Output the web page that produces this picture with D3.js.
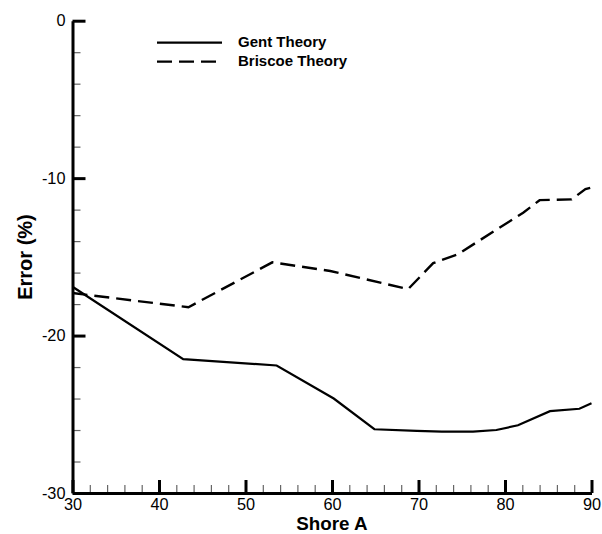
<!DOCTYPE html>
<html>
<head>
<meta charset="utf-8">
<script src="https://cdn.jsdelivr.net/npm/d3@7"></script>
<style>
  body { margin: 0; background: #fff; }
  svg { font-family: "Liberation Sans", Arial, sans-serif; }
</style>
</head>
<body>
<svg width="602" height="534"></svg>
<script>
// Data
let gentX = [30, 42.8, 53.6, 60.2, 64.9, 69.8, 72.7, 76.3, 79.0, 81.5, 85.2, 88.6, 90];
let gentY = [-16.9, -21.5, -21.9, -24.0, -25.95, -26.05, -26.1, -26.1, -26.0, -25.7, -24.8, -24.65, -24.3];
let briscoeX = [30, 43.4, 53.1, 59.8, 68.8, 71.7, 74.5, 82.1, 84.0, 87.7, 89.3, 90];
let briscoeY = [-17.3, -18.2, -15.35, -15.9, -17.05, -15.4, -14.85, -12.2, -11.4, -11.35, -10.7, -10.6];
let xTicks = [30, 40, 50, 60, 70, 80, 90];
let yTicks = [-30, -20, -10, 0];
let seriesNames = ["Gent Theory", "Briscoe Theory"];

let svg = d3.select("svg");

let x = d3.scaleLinear().domain([30, 90]).range([72.5, 591.5]);
let y = d3.scaleLinear().domain([-30, 0]).range([493, 20.7]);

let minorX = d3.range(30, 90.01, 2).filter(v => v % 10 !== 0);
let minorY = d3.range(-30, 0.01, 2).filter(v => v % 10 !== 0);

// minor ticks
svg.append("g")
  .attr("transform", "translate(0," + y(-30) + ")")
  .call(d3.axisBottom(x).tickValues(minorX).tickSizeInner(-8).tickSizeOuter(0).tickFormat(""))
  .call(g => g.select(".domain").remove())
  .selectAll("line").attr("stroke", "#666").attr("stroke-width", 1.2);

svg.append("g")
  .attr("transform", "translate(" + x(30) + ",0)")
  .call(d3.axisLeft(y).tickValues(minorY).tickSizeInner(-8).tickSizeOuter(0).tickFormat(""))
  .call(g => g.select(".domain").remove())
  .selectAll("line").attr("stroke", "#666").attr("stroke-width", 1.2);

// major axes (plain hyphen for negatives, as in the reference)
let xAxis = svg.append("g")
  .attr("transform", "translate(0," + y(-30) + ")")
  .call(d3.axisBottom(x).tickValues(xTicks).tickSizeInner(-13).tickSizeOuter(0)
    .tickPadding(5.5).tickFormat(d => String(d)));

let yAxis = svg.append("g")
  .attr("transform", "translate(" + x(30) + ",0)")
  .call(d3.axisLeft(y).tickValues(yTicks).tickSizeInner(-13).tickSizeOuter(0)
    .tickPadding(7).tickFormat(d => String(d)));

[xAxis, yAxis].forEach(function(g) {
  g.select(".domain").attr("stroke", "#000").attr("stroke-width", 3);
  g.selectAll(".tick line").attr("stroke", "#000").attr("stroke-width", 3);
  g.selectAll(".tick text").attr("fill", "#000").attr("font-size", "16.3px")
    .attr("font-family", "'Liberation Sans', Arial, sans-serif");
});

// Lines
let line = d3.line().x(d => x(d[0])).y(d => y(d[1]));

svg.append("path")
  .datum(d3.zip(gentX, gentY))
  .attr("d", line)
  .attr("fill", "none")
  .attr("stroke", "#000")
  .attr("stroke-width", 2.2);

svg.append("path")
  .datum(d3.zip(briscoeX, briscoeY))
  .attr("d", line)
  .attr("fill", "none")
  .attr("stroke", "#000")
  .attr("stroke-width", 2.4)
  .attr("stroke-dasharray", "15,7");

// Legend
let legend = svg.append("g");
seriesNames.forEach(function(name, i) {
  let ly = 42.7 + i * 19;
  legend.append("line")
    .attr("x1", 157).attr("x2", 222)
    .attr("y1", ly).attr("y2", ly)
    .attr("stroke", "#000").attr("stroke-width", 2.2)
    .attr("stroke-dasharray", i === 0 ? null : "15,7");
  legend.append("text")
    .attr("x", 238).attr("y", ly + 4.5)
    .attr("font-size", "15px").attr("font-weight", "bold")
    .text(name);
});

// Axis titles
svg.append("text")
  .attr("x", 332).attr("y", 530)
  .attr("text-anchor", "middle")
  .attr("font-size", "18.8px").attr("font-weight", "bold")
  .text("Shore A");

svg.append("text")
  .attr("transform", "translate(32,257) rotate(-90)")
  .attr("text-anchor", "middle")
  .attr("font-size", "20px").attr("font-weight", "bold")
  .text("Error (%)");
</script>
</body>
</html>
